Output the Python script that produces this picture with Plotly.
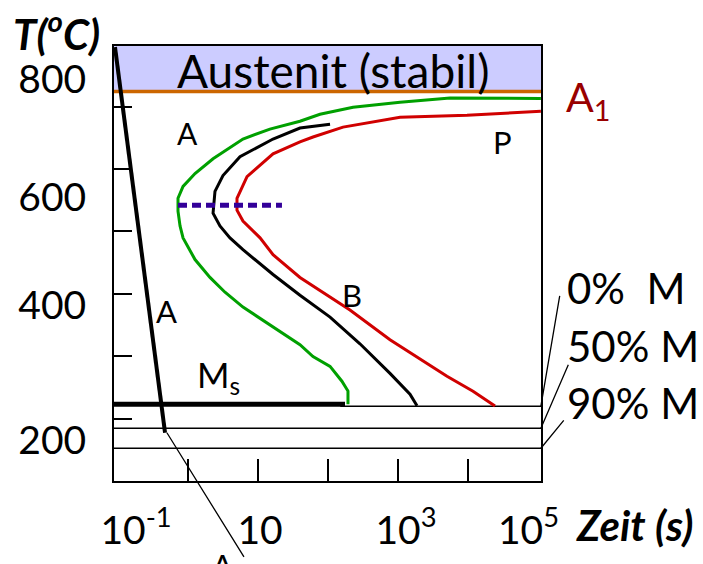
import math
import plotly.graph_objects as go

# ---------------- data (time in s, temperature in the chart's scale) ----------------
green_t = [1.1e5, 2.86e4, 5530, 1070, 228, 76.9, 39.8, 14.8, 6.1, 2.28, 1.26, 0.85, 0.72, 0.72,
           0.77, 0.85, 1.26, 2.06, 3.38, 6.1, 16.4, 39.8, 61.1, 107, 158, 193, 193]
green_T = [713.0, 713.0, 713.5, 706.7, 698.7, 687.6, 676.5, 663.9, 648.0, 616.3, 592.6, 572.0, 553.0,
           532.4, 508.6, 489.6, 454.8, 426.2, 402.5, 378.7, 347.0, 318.5, 299.5, 283.7, 259.9, 244.1, 223.0]

black_t = [107, 39.8, 16.4, 5.53, 3.16, 2.43, 2.28, 2.86, 3.98, 6.1, 16.4, 39.8, 107, 286, 769, 1484, 1868]
black_T = [671.8, 665.5, 648.0, 619.5, 589.4, 564.0, 529.2, 508.6, 489.6, 470.6, 430.9, 397.6, 362.7,
           319.9, 272.4, 239.1, 220.5]

red_t = [1.1e5, 2.86e4, 9680, 1070, 164, 61.1, 39.8, 16.4, 6.97, 5.01, 5.01, 6.1, 10.7, 16.4, 39.8,
         206, 769, 5010, 11800, 24300]
red_T = [692.4, 689.2, 686.1, 682.9, 667.0, 651.2, 643.3, 624.2, 587.8, 552.9, 533.9, 516.5, 489.6,
         462.6, 426.2, 373.9, 326.3, 267.7, 243.9, 220.0]

cool_t = [0.0906, 0.47]
cool_T = [795.4, 177.3]

nose_t = [0.72, 22.0]
nose_T = [541.8, 541.8]

ms_t = [0.08, 175]
ms_T = [222.8, 222.8]

# thin martensite lines (0 %, 50 %, 90 %)
mlines_T = [219.8, 184.5, 152.5]
mlines_t0 = [150, 0.05, 0.05]
mlines_t1 = [2e5, 2e5, 2e5]

a1_T = 724.0
aus_top_T = 800.0
axis_t = [0.05, 2e5]

# leader lines of the % labels: (tail time, tail T) -> (head time, head T)
lead_tail_t = [2.06e5, 2.77e5, 2.43e5]
lead_tail_T = [399.2, 288.6, 199.5]
lead_head_t = [1.1e5, 1.1e5, 1.1e5]
lead_head_T = [219.8, 184.5, 152.5]

# tick labels / tick marks
xtick_vals = [0.181, 10.7, 1300, 73100]
xtick_text = ["10<sup>-1</sup>", "10", "10<sup>3</sup>", "10<sup>5</sup>"]
xminor_vals = [1, 10, 100, 1000, 10000]
ytick_vals = [742.8, 554.5, 381.8, 165.8]
ytick_text = ["800", "600", "400", "200"]
yminor_vals = [200, 300, 400, 500, 600, 700]

x_range_log = [-1.057, 5.043]
y_range = [100, 797]

# text labels inside the plot
lab_text = ["Austenit (stabil)", "A", "A", "B", "P", "M<sub>s</sub>"]
lab_t = [116, 1.0, 0.50, 220, 3.16e4, 2.75]
lab_T = [757, 657.5, 372.3, 397.6, 643.0, 268.0]
lab_size = [46, 30, 31, 31, 31, 35]

# text labels outside the plot (paper coordinates)
out_text = ["0%  M", "50% M", "90% M", "A<sub>1</sub>",
            "<b><i>T(<sup>o</sup>C)</i></b>", "<b><i>Zeit (s)</i></b>", "A"]
out_x = [1.056, 1.056, 1.056, 1.110, -0.135, 1.218, 0.253]
out_y = [0.443, 0.311, 0.180, 0.877, 1.034, -0.100, -0.193]
out_anchor = ["left", "left", "left", "center", "center", "center", "center"]
out_size = [42, 42, 42, 41, 42, 42, 31]
out_color = ["black", "black", "black", "#990000", "black", "black", "black"]

FONT = "Lato, 'Open Sans', sans-serif"

fig = go.Figure()

# Austenite (stable) region
fig.add_trace(go.Scatter(x=[axis_t[0], axis_t[1], axis_t[1], axis_t[0]],
                         y=[a1_T, a1_T, aus_top_T, aus_top_T],
                         fill="toself", fillcolor="#CCCCFF", mode="lines",
                         line=dict(width=0), hoverinfo="skip"))
fig.add_trace(go.Scatter(x=axis_t, y=[a1_T, a1_T], mode="lines",
                         line=dict(color="#CC6600", width=3.5)))

# thin martensite lines
for t0, t1, T in zip(mlines_t0, mlines_t1, mlines_T):
    fig.add_trace(go.Scatter(x=[t0, t1], y=[T, T], mode="lines",
                             line=dict(color="black", width=1.6)))

# Ms thick line
fig.add_trace(go.Scatter(x=ms_t, y=ms_T, mode="lines", line=dict(color="black", width=5)))

# C-curves
fig.add_trace(go.Scatter(x=green_t, y=green_T, mode="lines", line=dict(color="#00A000", width=3)))
fig.add_trace(go.Scatter(x=black_t, y=black_T, mode="lines", line=dict(color="black", width=3)))
fig.add_trace(go.Scatter(x=red_t, y=red_T, mode="lines", line=dict(color="#D00000", width=3)))

# nose line
fig.add_trace(go.Scatter(x=nose_t, y=nose_T, mode="lines",
                         line=dict(color="#330099", width=5, dash="9px,5px")))

# cooling curve
fig.add_trace(go.Scatter(x=cool_t, y=cool_T, mode="lines", line=dict(color="black", width=4)))

ann = []
for txt, t, T, s in zip(lab_text, lab_t, lab_T, lab_size):
    ann.append(dict(x=math.log10(t), y=T, xref="x", yref="y", text=txt, showarrow=False,
                    font=dict(family=FONT, size=s, color="black")))
for txt, x, y, a, s, c in zip(out_text, out_x, out_y, out_anchor, out_size, out_color):
    ann.append(dict(x=x, y=y, xref="paper", yref="paper", text=txt, showarrow=False,
                    xanchor=a, yanchor="middle", font=dict(family=FONT, size=s, color=c)))
for tt, tT, ht, hT in zip(lead_tail_t, lead_tail_T, lead_head_t, lead_head_T):
    ann.append(dict(x=math.log10(ht), y=hT, xref="x", yref="y", ax=math.log10(tt), ay=tT,
                    axref="x", ayref="y", text="", showarrow=True, arrowhead=0,
                    arrowwidth=1.3, arrowcolor="black", standoff=0))
# line leaving the cooling curve towards the bottom
ann.append(dict(x=math.log10(0.50), y=177.3, xref="x", yref="y", ax=math.log10(6.5), ay=-24,
                axref="x", ayref="y", text="", showarrow=True, arrowhead=0,
                arrowwidth=1.3, arrowcolor="black", standoff=0))

fig.update_layout(
    width=703, height=564,
    margin=dict(l=114, r=162, t=46, b=78),
    paper_bgcolor="white", plot_bgcolor="white",
    showlegend=False,
    annotations=ann,
    font=dict(family=FONT, size=39, color="black"),
)
fig.update_xaxes(type="log", range=x_range_log, showgrid=False, zeroline=False,
                 showline=True, linecolor="black", linewidth=2, mirror=True,
                 tickmode="array", tickvals=xtick_vals, ticktext=xtick_text, ticks="",
                 ticklabelstandoff=14,
                 tickfont=dict(family=FONT, size=39, color="black"),
                 minor=dict(tickmode="array", tickvals=xminor_vals, ticks="inside",
                            ticklen=22, tickwidth=2, tickcolor="black"))
fig.update_yaxes(range=y_range, showgrid=False, zeroline=False,
                 showline=True, linecolor="black", linewidth=2, mirror=True,
                 tickmode="array", tickvals=ytick_vals, ticktext=ytick_text, ticks="",
                 ticklabelstandoff=18,
                 tickfont=dict(family=FONT, size=39, color="black"),
                 minor=dict(tickmode="array", tickvals=yminor_vals, ticks="inside",
                            ticklen=18, tickwidth=2, tickcolor="black"))

fig.write_html("out.html")
